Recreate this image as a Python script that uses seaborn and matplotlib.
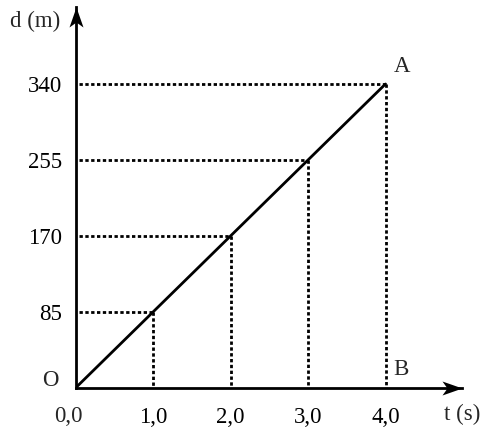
import matplotlib
matplotlib.use("Agg")
import matplotlib.pyplot as plt
import seaborn as sns
import pandas as pd

# ---- data ----
t_values = [0.0, 1.0, 2.0, 3.0, 4.0]
d_values = [0, 85, 170, 255, 340]
x_tick_values = [1.0, 2.0, 3.0, 4.0]
x_tick_labels = ["1,0", "2,0", "3,0", "4,0"]
y_tick_values = [85, 170, 255, 340]
y_tick_labels = ["85", "170", "255", "340"]
origin_label = "0,0"
x_label = "t (s)"
y_label = "d (m)"
point_labels = {"O": (0.0, 0), "A": (4.0, 340), "B": (4.0, 0)}

sns.set_style("white")
plt.rcParams["font.family"] = ["Liberation Serif", "DejaVu Serif"]
FS = 16.5

W, H = 495, 437
fig = plt.figure(figsize=(W / 100, H / 100), dpi=100)
# axes box in pixel terms: origin (75.5, 388), arrow tips at x=462.3, y=7.3
ax = fig.add_axes([75.5 / W, (H - 388) / H, (462.3 - 75.5) / W, (388 - 7.3) / H])
xmax = (462.3 - 75.5) / 77.5
ymax = (388 - 7.3) / (304 / 340)
ax.set_xlim(0, xmax)
ax.set_ylim(0, ymax)

df = pd.DataFrame({"t": t_values, "d": d_values})

# dotted guide lines
dot = dict(color="black", lw=2.0, linestyle=(0, (1.2, 0.9)),
           dash_capstyle="butt", zorder=2)
for tv, dv in zip(t_values[1:], d_values[1:]):
    ax.plot([0.05, tv], [dv, dv], **dot)
    ax.plot([tv, tv], [dv, 0], **dot)

# main line
sns.lineplot(data=df, x="t", y="d", ax=ax, color="black", lw=2.0, zorder=3)

# spines as axes
for s in ["top", "right"]:
    ax.spines[s].set_visible(False)
for s in ["left", "bottom"]:
    ax.spines[s].set_linewidth(2.0)
    ax.spines[s].set_color("black")
    ax.spines[s].set_zorder(4)

# arrow heads (notched)
right_head = [(0, 0), (-20, 7), (-15, 0), (-20, -7), (0, 0)]
up_head = [(0, 0), (7, -20), (0, -15), (-7, -20), (0, 0)]
ax.plot([xmax], [0], marker=right_head, markersize=28.8, color="black",
        markeredgewidth=0, clip_on=False, zorder=5)
ax.plot([0], [ymax], marker=up_head, markersize=28.8, color="black",
        markeredgewidth=0, clip_on=False, zorder=5)

# ticks
ax.set_xticks(x_tick_values)
ax.set_xticklabels(x_tick_labels, fontsize=FS)
ax.set_yticks(y_tick_values)
ax.set_yticklabels(y_tick_labels, fontsize=FS)
ax.tick_params(axis="x", direction="inout", length=6.5, width=1.8, pad=10.5, colors="black")
ax.tick_params(axis="y", direction="inout", length=8, width=1.8, pad=5.5, colors="black")
ax.set_xlabel("")
ax.set_ylabel("")

# origin tick label
ax.annotate(origin_label, xy=(0, 0), xytext=(-7.5, -29), textcoords="offset pixels",
            ha="center", va="center", fontsize=FS)

# point labels
offsets = {"O": (-25.5, 8), "A": (16.5, 17), "B": (15.3, 18.5)}
for name, (px, py) in point_labels.items():
    ox, oy = offsets[name]
    ax.annotate(name, xy=(px, py), xytext=(ox, oy), textcoords="offset pixels",
                ha="center", va="center", fontsize=FS, annotation_clip=False)

# axis names
fig.text(462 / W, 1 - 414 / H, x_label, ha="center", va="center", fontsize=FS)
fig.text(35 / W, 1 - 21 / H, y_label, ha="center", va="center", fontsize=FS)

fig.savefig("out.png", dpi=100)
